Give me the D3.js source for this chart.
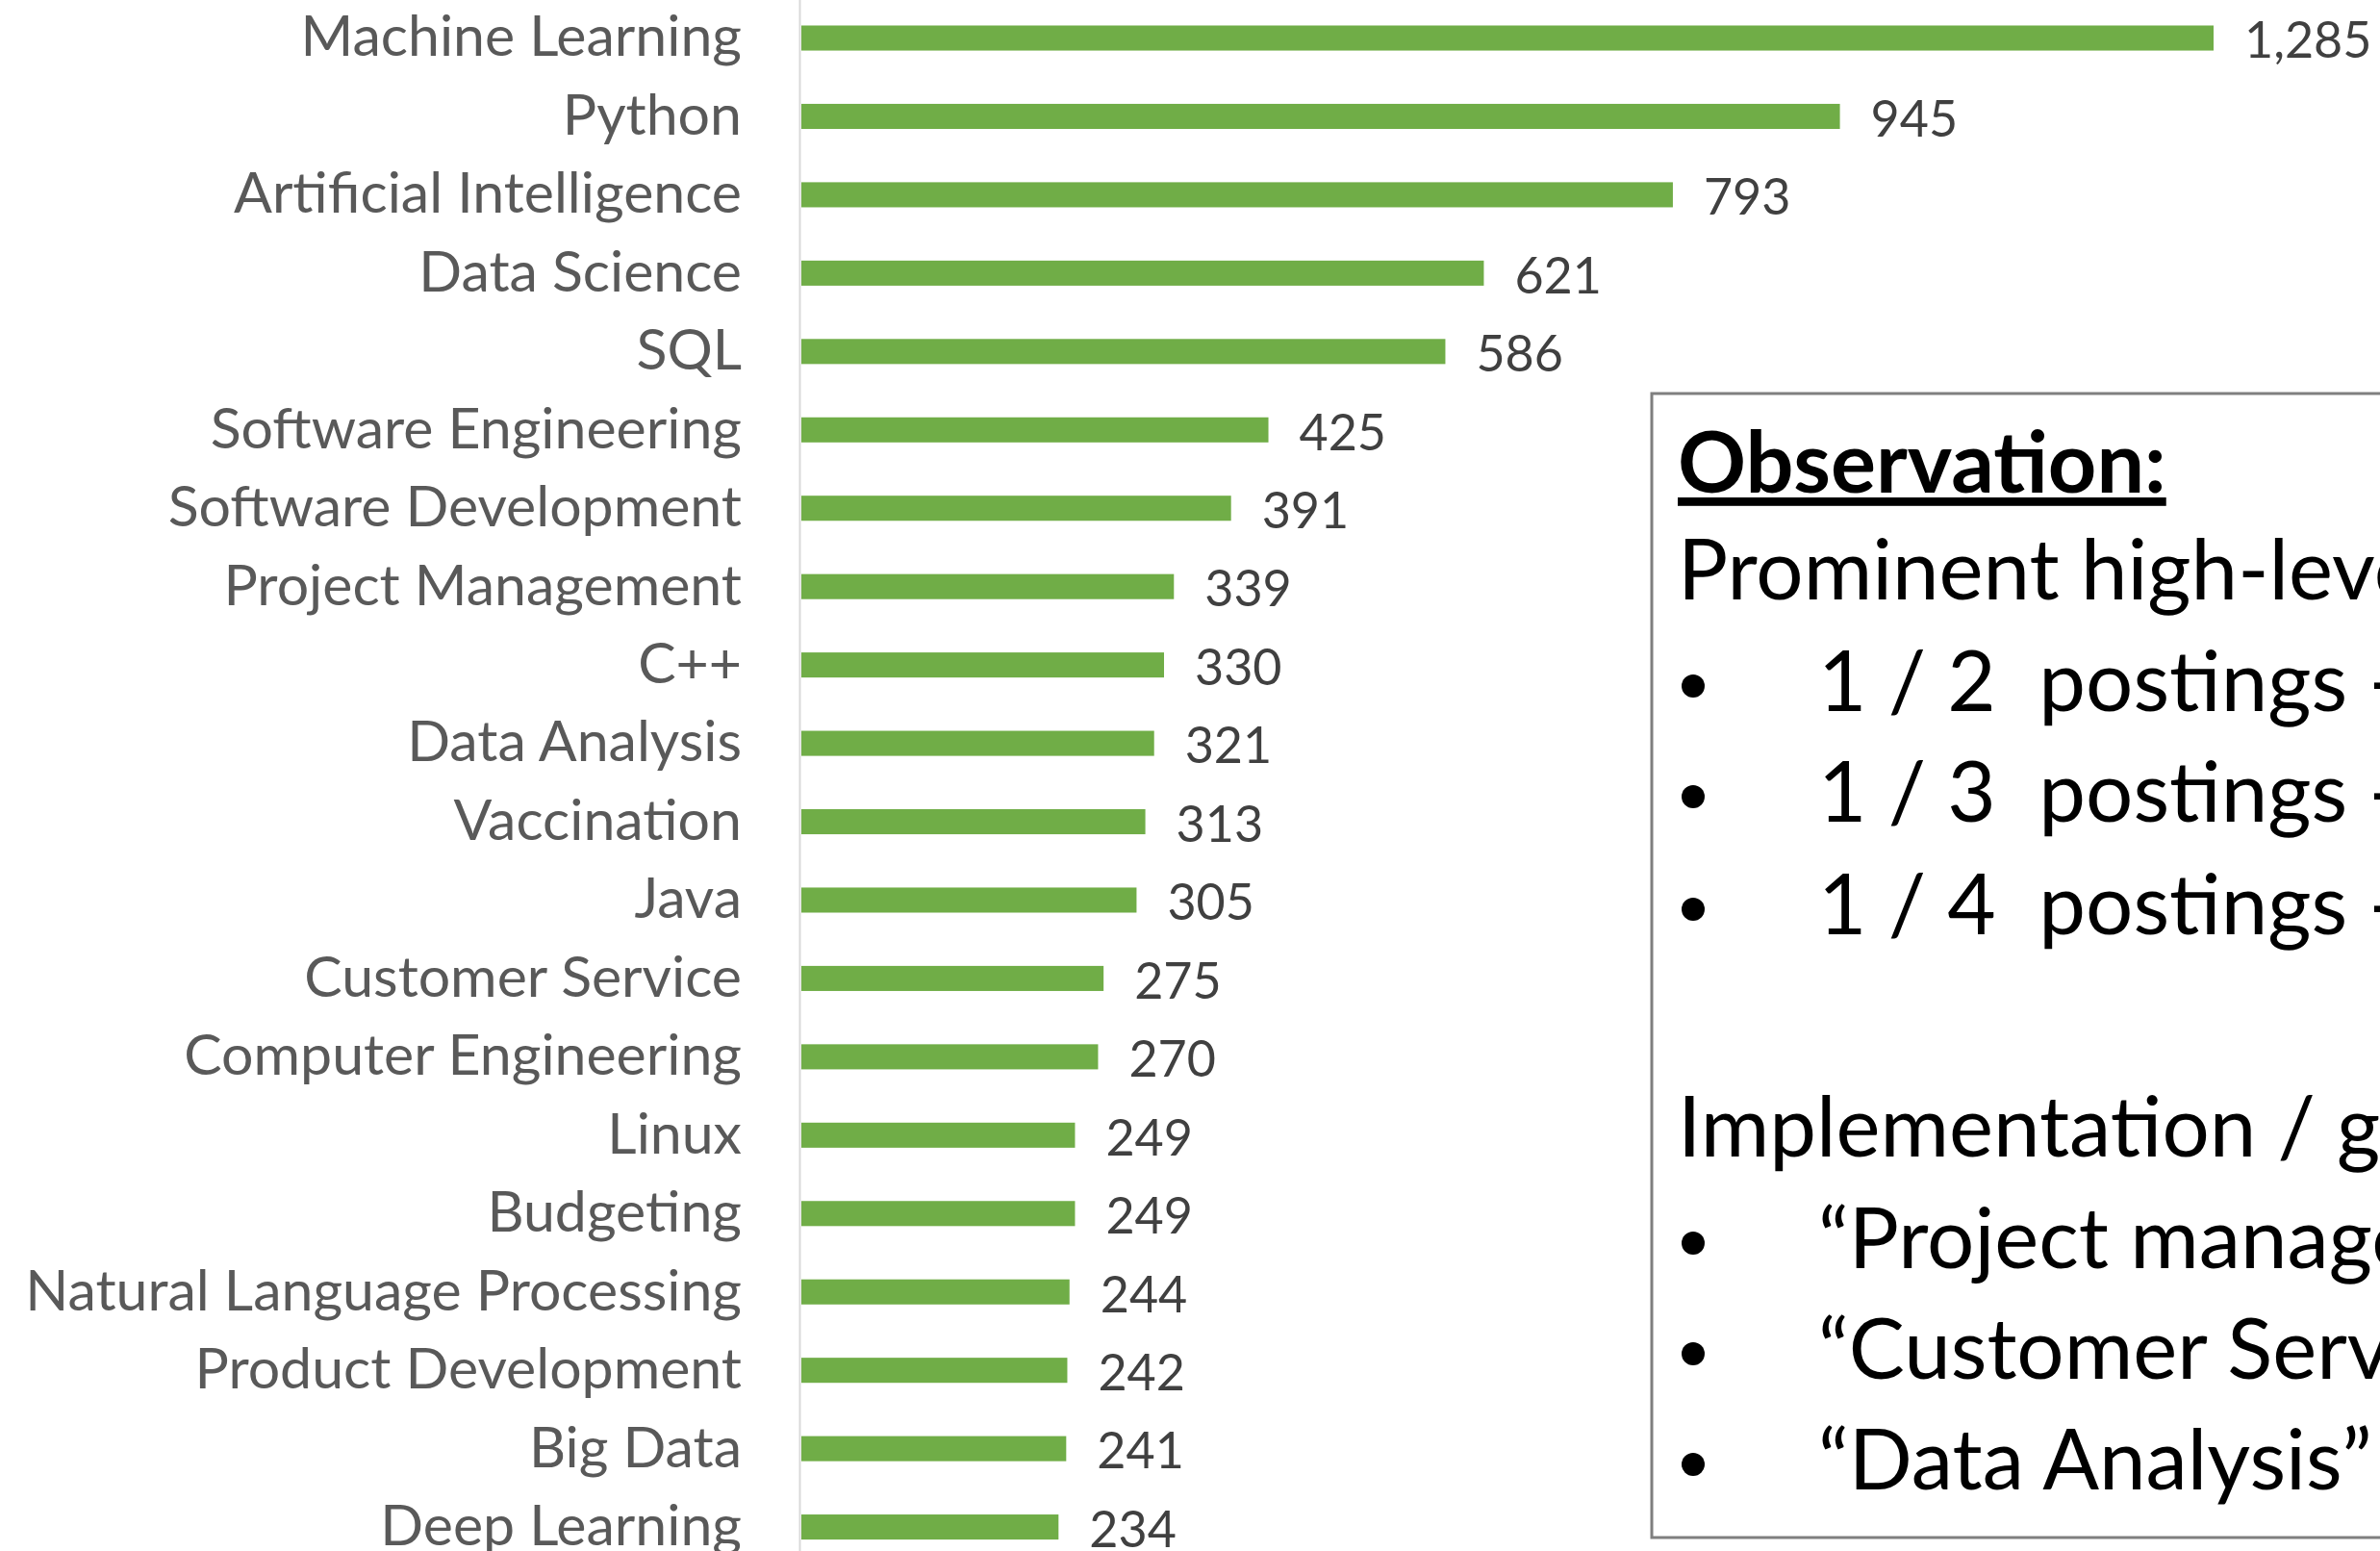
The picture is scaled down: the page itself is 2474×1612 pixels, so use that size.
<!DOCTYPE html>
<html>
<head>
<meta charset="utf-8">
<script src="https://cdn.jsdelivr.net/npm/d3@7"></script>
<style>
  html, body { margin: 0; padding: 0; background: #fff; overflow: hidden; }
  svg { display: block; }
</style>
</head>
<body>
<svg width="2474" height="1612"></svg>
<script>
const skills = [
    'Machine Learning', 'Python', 'Artificial Intelligence', 'Data Science', 'SQL',
    'Software Engineering', 'Software Development', 'Project Management', 'C++',
    'Data Analysis', 'Vaccination', 'Java', 'Customer Service', 'Computer Engineering',
    'Linux', 'Budgeting', 'Natural Language Processing', 'Product Development',
    'Big Data', 'Deep Learning'
];
const postings = [1285, 945, 793, 621, 586, 425, 391, 339, 330, 321, 313, 305, 275, 270, 249, 249, 244, 242, 241, 234];

const noteTitle = 'Observation:';
const noteLines = [
    { bullet: false, text: 'Prominent high-level skills' },
    { bullet: true, text: '1 / 2  postings - Machine Learning' },
    { bullet: true, text: '1 / 3  postings - Python' },
    { bullet: true, text: '1 / 4  postings - Artificial Intelligence' },
    { bullet: false, text: 'Implementation / general skills' },
    { bullet: true, text: '“Project management”' },
    { bullet: true, text: '“Customer Service”' },
    { bullet: true, text: '“Data Analysis”' }
];
const noteBaselines = [623, 739, 854, 971, 1202, 1318, 1433, 1548];

const data = skills.map((name, i) => ({ name, value: postings[i] }));
const svg = d3.select('svg');
const fmt = d3.format(',');

const x = d3.scaleLinear()
    .domain([0, 1285])
    .range([833, 2301]);

const y = d3.scaleBand()
    .domain(skills)
    .range([-1.2, 1627.8])
    .paddingInner(0.68)
    .paddingOuter(0.34);

// category axis, no ticks, light line
const axis = svg.append('g')
    .attr('transform', `translate(${x(0) - 2},0)`)
    .call(d3.axisLeft(y).tickSize(0).tickPadding(60));

axis.select('.domain')
    .attr('stroke', '#d9d9d9')
    .attr('stroke-width', 2);

axis.selectAll('text')
    .attr('font-family', 'Lato, sans-serif')
    .attr('font-size', 59)
    .attr('fill', '#595959');

// bars
svg.append('g').selectAll('rect')
    .data(data)
    .join('rect')
        .attr('x', x(0))
        .attr('y', d => y(d.name))
        .attr('width', d => x(d.value) - x(0))
        .attr('height', y.bandwidth())
        .attr('fill', '#70ad47');

// value labels
svg.append('g').selectAll('text')
    .data(data)
    .join('text')
        .attr('x', d => x(d.value) + 32)
        .attr('y', d => y(d.name) + y.bandwidth() / 2)
        .attr('dy', '0.4em')
        .attr('font-family', 'Lato, sans-serif')
        .attr('font-size', 52)
        .attr('fill', '#404040')
        .text(d => fmt(d.value));

// observation box
const note = svg.append('g');
note.append('rect')
    .attr('x', 1717)
    .attr('y', 409)
    .attr('width', 1000)
    .attr('height', 1189)
    .attr('fill', '#fff')
    .attr('stroke', '#7f7f7f')
    .attr('stroke-width', 3);

note.append('text')
    .attr('x', 1744)
    .attr('y', 512)
    .attr('font-family', 'Lato, sans-serif')
    .attr('font-weight', 'bold')
    .attr('font-size', 88)
    .attr('text-decoration', 'underline')
    .attr('fill', '#000')
    .text(noteTitle);

const rows = note.selectAll('.note-row')
    .data(noteLines)
    .join('g')
        .attr('class', 'note-row')
        .attr('transform', (d, i) => `translate(0,${noteBaselines[i]})`);

rows.filter(d => d.bullet)
    .append('circle')
        .attr('cx', 1760)
        .attr('cy', -26)
        .attr('r', 12)
        .attr('fill', '#000');

rows.append('text')
    .attr('x', d => d.bullet ? 1890 : 1744)
    .attr('font-family', 'Lato, sans-serif')
    .attr('font-size', 87)
    .attr('fill', '#000')
    .attr('xml:space', 'preserve')
    .text(d => d.text);
</script>
</body>
</html>
